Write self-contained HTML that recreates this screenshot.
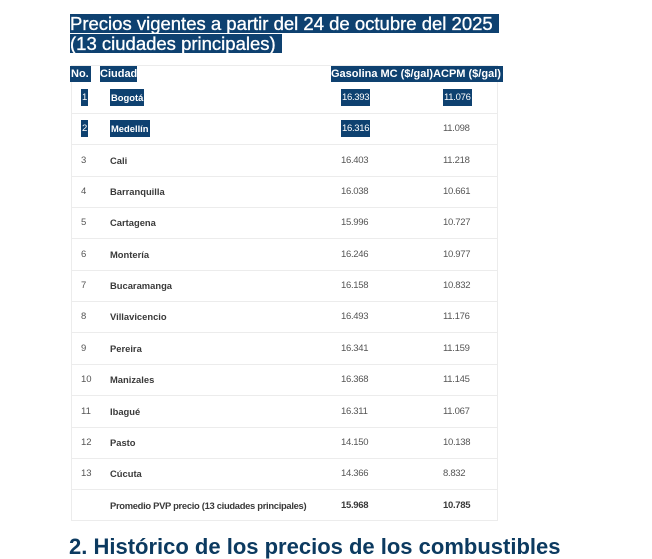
<!DOCTYPE html>
<html><head><meta charset="utf-8">
<style>
html,body{margin:0;padding:0;background:#fff;}
body{width:652px;height:543px;position:relative;overflow:hidden;font-family:"Liberation Sans",Arial,sans-serif;}
.hl{background:#0e4170;color:#fff;}
.t{position:absolute;left:70px;height:19px;line-height:20px;font-size:18.5px;color:#fff;background:#0e4170;white-space:pre;padding-right:1px;-webkit-text-stroke:0.35px #fff;}
.box{position:absolute;left:71px;top:65px;width:425px;height:454px;border:1px solid #ececec;}
.hd{position:absolute;top:66px;height:16px;line-height:16px;font-size:11px;font-weight:bold;color:#fff;background:#0e4170;white-space:nowrap;}
.row{position:absolute;left:71px;width:426px;height:31px;border-bottom:1px solid #ececec;}
.c{position:absolute;top:0;height:31px;line-height:31px;white-space:nowrap;}
.n{left:10px;font-size:9.5px;color:#555;}
.city{left:39px;font-size:9.4px;font-weight:bold;color:#3a3a3a;}
.g{left:270px;font-size:9.5px;color:#555;letter-spacing:-0.3px;}
.a{left:372px;font-size:9.5px;color:#555;letter-spacing:-0.3px;}
.c span.hl{padding:3px 1px;color:#fff;}
.h2{position:absolute;left:69px;top:536px;font-size:22px;line-height:22px;font-weight:bold;color:#0c3a60;white-space:nowrap;}
</style></head><body>
<div class="t" style="top:14px;">Precios vigentes a partir del 24 de octubre del 2025 </div>
<div class="t" style="top:34px;">(13 ciudades principales) </div>

<div class="box"></div>
<div class="hd" style="left:70px;padding:0 2px 0 1px;">No.</div>
<div class="hd" style="left:100px;">Ciudad</div>
<div class="hd" style="left:331px;padding-right:2px;">Gasolina MC ($/gal)ACPM ($/gal)</div>

<div class="row" style="top:82px;"><div class="c n"><span class="hl">1</span></div><div class="c city"><span class="hl">Bogotá</span></div><div class="c g"><span class="hl">16.393</span></div><div class="c a"><span class="hl">11.076</span></div></div>
<div class="row" style="top:113.35px;"><div class="c n"><span class="hl">2</span></div><div class="c city"><span class="hl">Medellín</span></div><div class="c g"><span class="hl">16.316</span></div><div class="c a">11.098</div></div>
<div class="row" style="top:144.7px;"><div class="c n">3</div><div class="c city">Cali</div><div class="c g">16.403</div><div class="c a">11.218</div></div>
<div class="row" style="top:176.05px;"><div class="c n">4</div><div class="c city">Barranquilla</div><div class="c g">16.038</div><div class="c a">10.661</div></div>
<div class="row" style="top:207.4px;"><div class="c n">5</div><div class="c city">Cartagena</div><div class="c g">15.996</div><div class="c a">10.727</div></div>
<div class="row" style="top:238.75px;"><div class="c n">6</div><div class="c city">Montería</div><div class="c g">16.246</div><div class="c a">10.977</div></div>
<div class="row" style="top:270.1px;"><div class="c n">7</div><div class="c city">Bucaramanga</div><div class="c g">16.158</div><div class="c a">10.832</div></div>
<div class="row" style="top:301.45px;"><div class="c n">8</div><div class="c city">Villavicencio</div><div class="c g">16.493</div><div class="c a">11.176</div></div>
<div class="row" style="top:332.8px;"><div class="c n">9</div><div class="c city">Pereira</div><div class="c g">16.341</div><div class="c a">11.159</div></div>
<div class="row" style="top:364.15px;"><div class="c n">10</div><div class="c city">Manizales</div><div class="c g">16.368</div><div class="c a">11.145</div></div>
<div class="row" style="top:395.5px;"><div class="c n">11</div><div class="c city">Ibagué</div><div class="c g">16.311</div><div class="c a">11.067</div></div>
<div class="row" style="top:426.85px;"><div class="c n">12</div><div class="c city">Pasto</div><div class="c g">14.150</div><div class="c a">10.138</div></div>
<div class="row" style="top:458.2px;"><div class="c n">13</div><div class="c city">Cúcuta</div><div class="c g">14.366</div><div class="c a">8.832</div></div>
<div class="row" style="top:489.55px;border-bottom:none;"><div class="c city" style="letter-spacing:-0.3px;">Promedio PVP precio (13 ciudades principales)</div><div class="c g" style="font-weight:bold;color:#3a3a3a;">15.968</div><div class="c a" style="font-weight:bold;color:#3a3a3a;">10.785</div></div>

<div class="h2">2. Histórico de los precios de los combustibles</div>
</body></html>
